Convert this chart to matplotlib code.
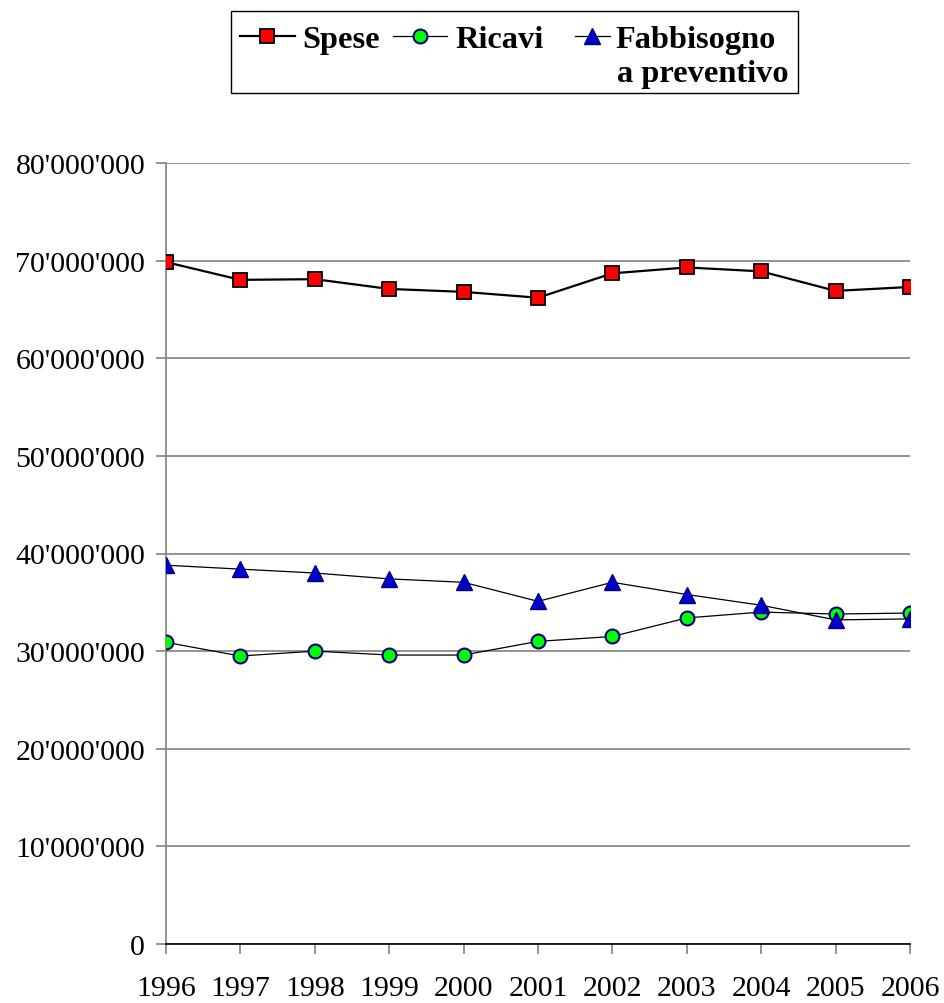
import matplotlib
matplotlib.use("Agg")
import matplotlib.pyplot as plt
from matplotlib.patches import Rectangle
from matplotlib.ticker import FuncFormatter, MultipleLocator

years = [1996, 1997, 1998, 1999, 2000, 2001, 2002, 2003, 2004, 2005, 2006]
spese = [69.85e6, 68.03e6, 68.1e6, 67.1e6, 66.8e6, 66.2e6, 68.7e6, 69.3e6, 68.9e6, 66.9e6, 67.3e6]
ricavi = [30.9e6, 29.5e6, 30.0e6, 29.6e6, 29.6e6, 31.0e6, 31.5e6, 33.4e6, 34.0e6, 33.8e6, 33.9e6]
fabbisogno = [38.8e6, 38.4e6, 38.0e6, 37.4e6, 37.05e6, 35.1e6, 37.05e6, 35.8e6, 34.7e6, 33.2e6, 33.3e6]
labels = ["Spese", "Ricavi", "Fabbisogno", "a preventivo"]

plt.rcParams["font.family"] = ["Liberation Serif", "DejaVu Serif"]

W, H = 944, 1004
fig = plt.figure(figsize=(W / 100, H / 100), dpi=100)
ax = fig.add_axes([166 / W, 1 - 945 / H, (910 - 166) / W, (945 - 164) / H])

styles = [
    dict(color="black", lw=1.6, marker="s", markersize=10, markerfacecolor="#ff0000",
         markeredgecolor="black", markeredgewidth=1.3),
    dict(color="black", lw=0.9, marker="o", markersize=10, markerfacecolor="#00ff00",
         markeredgecolor="#000080", markeredgewidth=1.5),
    dict(color="black", lw=0.9, marker="^", markersize=11, markerfacecolor="#0000cc",
         markeredgecolor="#000080", markeredgewidth=1.0),
]

ax.plot(years, spese, zorder=4, **styles[0])
ax.plot(years, ricavi, zorder=3, **styles[1])
ax.plot(years, fabbisogno, zorder=5, **styles[2])

ax.set_xlim(1996, 2006)
ax.set_ylim(0, 80e6)
ax.xaxis.set_major_locator(MultipleLocator(1))
ax.yaxis.set_major_locator(MultipleLocator(10e6))
ax.yaxis.set_major_formatter(FuncFormatter(lambda v, p: f"{int(round(v)):,}".replace(",", "'")))
ax.xaxis.set_major_formatter(FuncFormatter(lambda v, p: f"{int(round(v))}"))

ax.grid(axis="y", color="#808080", lw=1.2)
ax.set_axisbelow(True)
for s in ("top", "right"):
    ax.spines[s].set_visible(False)
ax.spines["left"].set_color("#808080")
ax.spines["left"].set_linewidth(1.2)
ax.spines["bottom"].set_color("black")
ax.spines["bottom"].set_linewidth(1.2)
ax.spines["bottom"].set_zorder(6)

ax.tick_params(axis="y", direction="out", length=7, width=1.2, color="#808080",
               labelsize=21.5, pad=8)
ax.tick_params(axis="x", direction="out", length=7, width=1.2, color="#808080",
               labelsize=21.5, pad=15)

# Legend box drawn on an overlay in pixel units
lg = fig.add_axes([0, 0, 1, 1], zorder=10)
lg.set_xlim(0, W)
lg.set_ylim(H, 0)
lg.axis("off")
lg.add_patch(Rectangle((231, 12), 798 - 231, 94 - 12, facecolor="white",
                       edgecolor="black", lw=1.0))
row_y = 37
handles = [(240, 295, 267), (393, 447, 420), (575, 610, 592)]
for (x0, x1, xm), st in zip(handles, styles):
    st = dict(st)
    marker = st.pop("marker")
    ms = st.pop("markersize")
    mfc = st.pop("markerfacecolor")
    mec = st.pop("markeredgecolor")
    mew = st.pop("markeredgewidth")
    lg.plot([x0, x1], [row_y, row_y], **st)
    lg.plot([xm], [row_y], marker=marker, markersize=ms, markerfacecolor=mfc,
            markeredgecolor=mec, markeredgewidth=mew, linestyle="none")

font = dict(family=["Liberation Serif"], weight="bold", size=23.3, va="baseline", ha="left")
lg.text(302, 48, labels[0], **font)
lg.text(455, 48, labels[1], **font)
lg.text(615, 48, labels[2], **font)
lg.text(617, 82, labels[3], **font)

fig.savefig("out.png", dpi=100)
